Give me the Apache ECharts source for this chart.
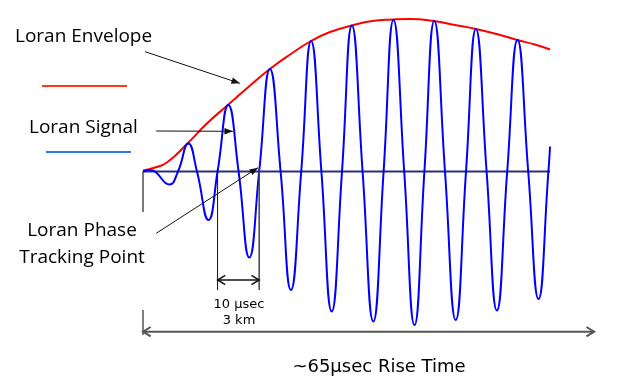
<!DOCTYPE html>
<html>
<head>
<meta charset="utf-8">
<script src="https://cdn.jsdelivr.net/npm/echarts@6/dist/echarts.min.js"></script>
<style>
html,body{margin:0;padding:0;background:#fff;}
#chart{width:633px;height:384px;}
</style>
</head>
<body>
<div id="chart"></div>
<script>
// ---- Data (time in microseconds, amplitude in arbitrary units) ----
const signalTime = [0, 1.7, 2.9, 6.4, 8.5, 11.0, 13.1, 15.9, 18.1, 20.7, 23.2, 25.8, 28.2, 30.8, 33.4, 35.9, 38.4, 40.8, 43.3, 45.8, 48.3, 50.7, 53.3, 55.9, 58.4, 60.8, 63.4, 65.9, 68.3, 70.7, 73.3, 75.9, 78.4, 80.8, 83.4, 85.9, 88.4, 90.9, 93.5, 96.0, 98.4, 98.8];
const signalAmp  = [0, 1.5, 0, -13, 0, 28, 0, -48.5, 0, 66.5, 0, -86, 0, 102.5, 0, -118.5, 0, 130.5, 0, -140, 0, 146, 0, -150, 0, 151.5, 0, -153.5, 0, 150.5, 0, -148.5, 0, 142.5, 0, -139, 0, 131.5, 0, -127.5, 0, 25];

const envelopeTime = [0, 2.9, 5.8, 10.9, 15.5, 20.6, 26.0, 30.8, 35.7, 40.8, 45.4, 50.7, 55.6, 60.7, 64.8, 70.6, 75.7, 80.8, 86.7, 90.8, 95.1, 98.8];
const envelopeAmp  = [1, 4, 9, 28.5, 48, 66.5, 86, 102.5, 117, 130.5, 139.5, 146, 150.5, 152, 152.5, 150.5, 146.5, 142.5, 136.5, 131.5, 127, 122];

const baselineTime = [0, 98.8];
const baselineAmp  = [0, 0];

// Annotation endpoints in data coordinates [t1, a1, t2, a2]
const annotationLines = [
  [0.5, 119.8, 23.5, 88.2],    // envelope pointer
  [3.2, 40.5, 21.8, 40.2],     // signal pointer
  [3.2, -61.8, 27.9, 3.8],     // phase tracking pointer
  [0, 0, 0, -40.5],            // start tick
  [18.1, 2.5, 18.1, -118.5],   // 10 usec marker left
  [28.2, 3.5, 28.2, -118.5],   // 10 usec marker right
  [18.1, -108.5, 28.2, -108.5],// 10 usec span
  [0, -138.5, 0, -163.5],      // rise time start tick
  [0, -160.2, 109.5, -160.2]   // rise time span
];
// styles per annotation (not data)
const annotationStyle = [
  {c:'#111', w:1, head:'end'},
  {c:'#111', w:1, head:'end'},
  {c:'#111', w:1, head:'end'},
  {c:'#222', w:1.2, head:'none'},
  {c:'#111', w:1, head:'none'},
  {c:'#444', w:1.5, head:'none'},
  {c:'#111', w:1.5, head:'both'},
  {c:'#555', w:1.5, head:'none'},
  {c:'#555', w:2, head:'both'}
];

const chart = echarts.init(document.getElementById('chart'), null, {renderer:'canvas'});

function zip(a, b){ return a.map((v,i)=>[v, b[i]]); }

function renderAnnot(params, api){
  const s = annotationStyle[params.dataIndex];
  const p1 = api.coord([api.value(0), api.value(1)]);
  const p2 = api.coord([api.value(2), api.value(3)]);
  const children = [{
    type:'line', shape:{x1:p1[0], y1:p1[1], x2:p2[0], y2:p2[1]},
    style:{stroke:s.c, lineWidth:s.w}
  }];
  const dx = p2[0]-p1[0], dy = p2[1]-p1[1];
  const len = Math.sqrt(dx*dx+dy*dy);
  const ux = dx/len, uy = dy/len;
  function head(px, py, dirx, diry, filled){
    const h = filled ? 9 : 9;
    const ang = filled ? 0.38 : 0.55;
    const ca = Math.cos(ang), sa = Math.sin(ang);
    const bx = -dirx, by = -diry;
    const ax1 = px + h*(bx*ca - by*sa), ay1 = py + h*(bx*sa + by*ca);
    const ax2 = px + h*(bx*ca + by*sa), ay2 = py + h*(-bx*sa + by*ca);
    if (filled) {
      children.push({type:'polygon', shape:{points:[[ax1,ay1],[px,py],[ax2,ay2]]}, style:{fill:s.c}});
    } else {
      children.push({type:'polyline', shape:{points:[[ax1,ay1],[px,py],[ax2,ay2]]}, style:{stroke:s.c, lineWidth:s.w, fill:null}});
    }
  }
  if (s.head === 'end') head(p2[0], p2[1], ux, uy, true);
  if (s.head === 'both') { head(p2[0], p2[1], ux, uy, false); head(p1[0], p1[1], -ux, -uy, false); }
  return {type:'group', children};
}

const legendFont = '"Open Sans", "Noto Sans", sans-serif';
const arialLike = '"DejaVu Sans", sans-serif';

const option = {
  animation:false,
  backgroundColor:'#ffffff',
  grid:{left:143, right:28.56, top:1.5, bottom:12.5, containLabel:false},
  xAxis:{type:'value', min:0, max:112, show:false},
  yAxis:{type:'value', min:-200, max:170, show:false},
  series:[
    {type:'line', data:zip(baselineTime, baselineAmp), symbol:'none',
     lineStyle:{color:'#2e2e70', width:2}, z:2},
    {type:'line', data:zip(envelopeTime, envelopeAmp), symbol:'none', smooth:0.5,
     lineStyle:{color:'#ff0000', width:2}, z:3},
    {type:'line', data:zip(signalTime, signalAmp), symbol:'none', smooth:0.5,
     lineStyle:{color:'#0000ff', width:2}, z:4},
    {type:'custom', data:annotationLines, renderItem:renderAnnot, clip:false, z:5,
     encode:{x:[0,2], y:[1,3]}}
  ],
  graphic:[
    {type:'text', left:15, top:27, style:{text:'Loran Envelope', font:'19px '+legendFont, fill:'#000'}},
    {type:'line', shape:{x1:42, y1:86, x2:127, y2:86}, style:{stroke:'#ff3a1a', lineWidth:2}},
    {type:'text', left:29, top:118, style:{text:'Loran Signal', font:'19px '+legendFont, fill:'#000'}},
    {type:'line', shape:{x1:46, y1:152, x2:131, y2:152}, style:{stroke:'#2e78ea', lineWidth:2}},
    {type:'text', x:82, y:231, style:{text:'Loran Phase', font:'19px '+legendFont, fill:'#000', align:'center', verticalAlign:'middle'}},
    {type:'text', x:82, y:258, style:{text:'Tracking Point', font:'19px '+legendFont, fill:'#000', align:'center', verticalAlign:'middle'}},
    {type:'text', x:239, y:305, style:{text:'10 \u00b5sec', font:'13px '+arialLike, fill:'#000', align:'center', verticalAlign:'middle'}},
    {type:'text', x:239, y:321, style:{text:'3 km', font:'13px '+arialLike, fill:'#000', align:'center', verticalAlign:'middle'}},
    {type:'text', x:379, y:367, style:{text:'~65\u00b5sec Rise Time', font:'18px '+arialLike, fill:'#000', align:'center', verticalAlign:'middle'}}
  ]
};
chart.setOption(option);
</script>
</body>
</html>
